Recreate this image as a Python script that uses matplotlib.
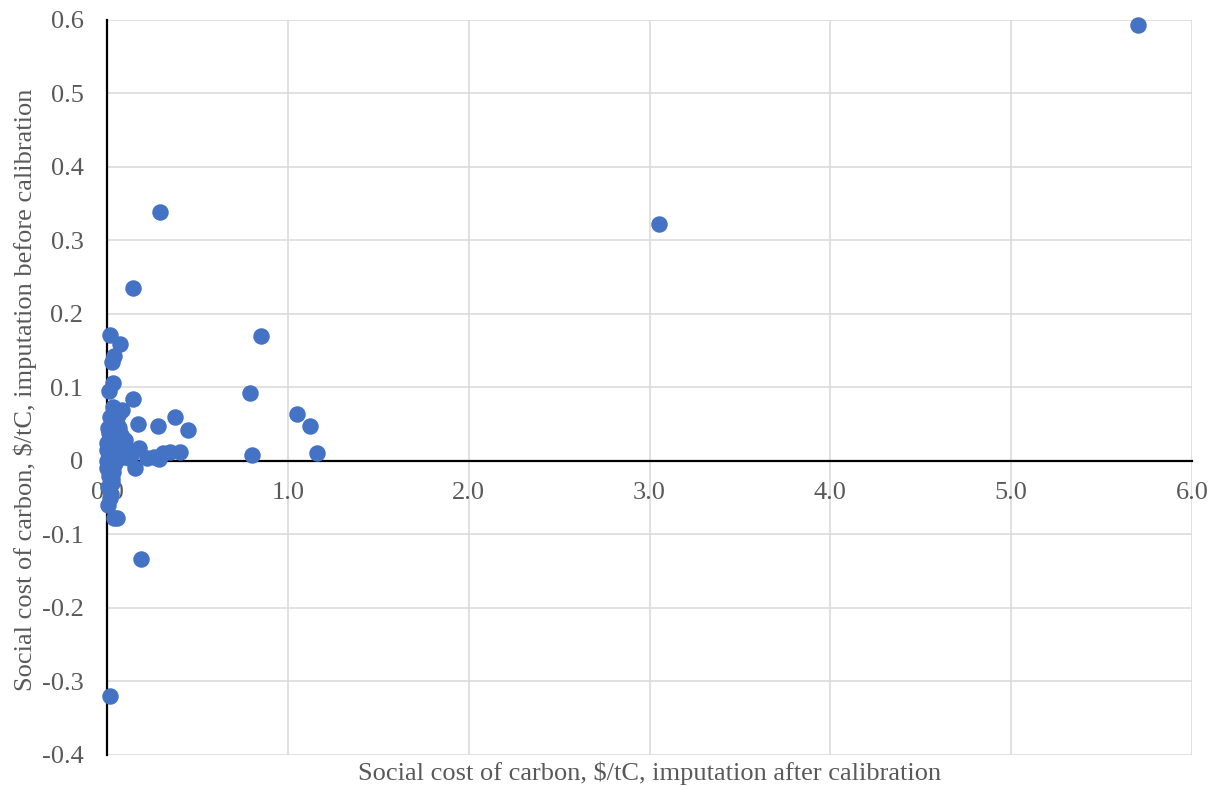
import matplotlib.pyplot as plt
import numpy as np

# social cost of carbon, $/tC: after calibration (x) vs before calibration (y)
scc_after = [
    5.70, 3.05, 0.294, 0.144, 0.017, 0.072, 0.039, 0.028, 0.851, 0.033,
    0.011, 0.790, 0.144, 0.033, 0.083, 0.376, 1.050, 1.120, 0.282, 0.171,
    0.448, 0.800, 1.160, 0.403, 0.310, 0.348, 0.260, 0.221, 0.177, 0.287,
    0.155, 0.188, 0.017, 0.039, 0.055, 0.006,
    0.005, 0.010, 0.020, 0.040, 0.060, 0.075, 0.070, 0.080, 0.050, 0.030,
    0.010, 0.002, 0.070, 0.090, 0.120, 0.040, 0.020, 0.035, 0.010, 0.030,
    0.005, 0.020, 0.060, 0.050, 0.080, 0.060, 0.015, 0.025, 0.030, 0.000,
    0.000, 0.000, 0.045, 0.065, 0.100, 0.130, 0.110, 0.025, 0.015, 0.050,
]
scc_before = [
    0.593, 0.322, 0.339, 0.235, 0.172, 0.159, 0.143, 0.134, 0.170, 0.106,
    0.095, 0.093, 0.084, 0.073, 0.069, 0.060, 0.064, 0.048, 0.047, 0.050,
    0.042, 0.008, 0.011, 0.012, 0.011, 0.012, 0.006, 0.004, 0.017, 0.003,
    -0.010, -0.133, -0.320, -0.078, -0.078, -0.060,
    0.045, 0.038, 0.030, 0.055, 0.048, 0.035, 0.025, 0.018, 0.020, 0.012,
    0.005, 0.000, 0.008, 0.005, 0.004, -0.005, -0.012, -0.015, -0.020, -0.025,
    -0.035, -0.045, 0.062, 0.066, 0.012, 0.030, 0.060, 0.022, -0.030, -0.010,
    0.025, 0.015, 0.040, 0.045, 0.028, 0.008, 0.015, 0.002, -0.050, 0.000,
]

x_ticks = [0, 1, 2, 3, 4, 5, 6]
y_ticks = [-0.4, -0.3, -0.2, -0.1, 0, 0.1, 0.2, 0.3, 0.4, 0.5, 0.6]
y_tick_labels = ['-0.4', '-0.3', '-0.2', '-0.1', '0', '0.1', '0.2', '0.3', '0.4', '0.5', '0.6']

plt.rcParams['font.family'] = ['Liberation Serif', 'DejaVu Serif']
text_grey = '#595959'

fig = plt.figure(figsize=(12.12, 7.87), dpi=100)
ax = fig.add_axes([0.0883, 0.0407, 0.8952, 0.9339])

ax.scatter(scc_after, scc_before, s=118, color='#4472c4', zorder=3, clip_on=False)

ax.set_xlim(0, 6)
ax.set_ylim(-0.4, 0.6)
ax.set_xticks(x_ticks)
ax.set_xticklabels([f'{t:.1f}' for t in x_ticks])
ax.set_yticks(y_ticks)
ax.set_yticklabels(y_tick_labels)

ax.grid(True, color='#d9d9d9', linewidth=1.1)
ax.set_axisbelow(True)

# axis lines cross at the origin
ax.spines['top'].set_visible(False)
ax.spines['right'].set_visible(False)
ax.spines['bottom'].set_position(('data', 0))
ax.spines['bottom'].set_linewidth(1.6)
ax.spines['left'].set_linewidth(1.6)
ax.spines['bottom'].set_color('black')
ax.spines['left'].set_color('black')

ax.tick_params(axis='both', length=0, labelsize=19, labelcolor=text_grey)
ax.tick_params(axis='x', pad=15)
ax.tick_params(axis='y', pad=17)

fig.text(0.536, 0.017, 'Social cost of carbon, $/tC, imputation after calibration',
         ha='center', va='center', fontsize=19, color=text_grey)
fig.text(0.021, 0.505, 'Social cost of carbon, $/tC, imputation before calibration',
         ha='center', va='center', rotation=90, fontsize=19, color=text_grey)

fig.savefig('out.png', dpi=100)
